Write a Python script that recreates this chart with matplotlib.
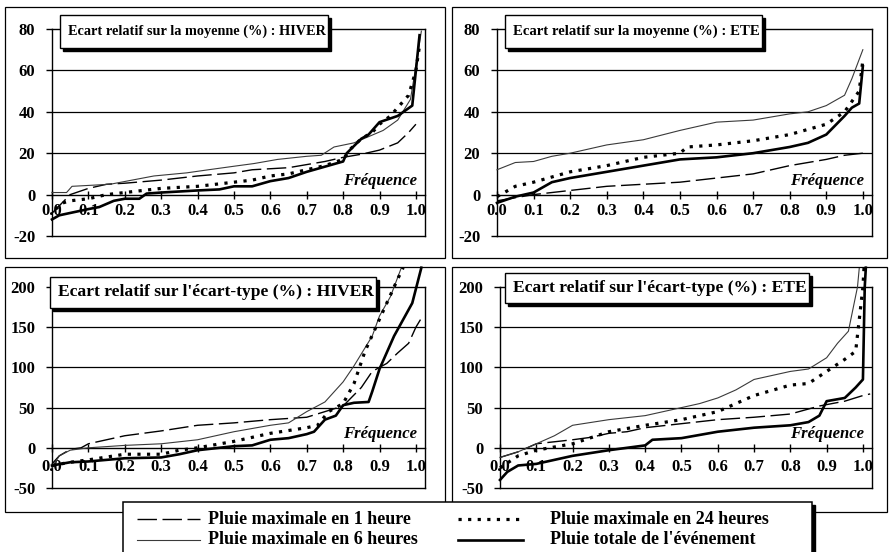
import matplotlib
matplotlib.use("Agg")
import matplotlib.pyplot as plt
import numpy as np
from matplotlib.patches import Rectangle
from matplotlib.lines import Line2D

plt.rcParams['font.family'] = ['Liberation Serif', 'DejaVu Serif']
plt.rcParams['font.weight'] = 'bold'

# ---------------- DATA ----------------
series_labels = ["Pluie maximale en 1 heure", "Pluie maximale en 6 heures",
                 "Pluie maximale en 24 heures", "Pluie totale de l'événement"]
xtick_vals = [0.0, 0.1, 0.2, 0.3, 0.4, 0.5, 0.6, 0.7, 0.8, 0.9, 1.0]
xtick_labels = ["0.0", "0.1", "0.2", "0.3", "0.4", "0.5", "0.6", "0.7", "0.8", "0.9", "1.0"]
yticks_moy = [-20, 0, 20, 40, 60, 80]
yticks_ect = [-50, 0, 50, 100, 150, 200]
titles = ["Ecart relatif sur la moyenne (%) : HIVER",
          "Ecart relatif sur la moyenne (%) : ETE",
          "Ecart relatif sur l'écart-type (%) : HIVER",
          "Ecart relatif sur l'écart-type (%) : ETE"]
axis_label = "Fréquence"

# Panel 1: moyenne HIVER
p1_h1_x = [0.0, 0.05, 0.1, 0.15, 0.2, 0.3, 0.4, 0.5, 0.55, 0.65, 0.7, 0.75, 0.8, 0.85, 0.9, 0.95, 0.98, 1.0]
p1_h1_y = [-9, 0, 3, 5, 5.5, 7, 9, 10.5, 12, 13, 14.5, 16, 18, 19.5, 21.5, 25, 30, 34]
p1_h6_x = [0.0, 0.04, 0.055, 0.16, 0.22, 0.28, 0.37, 0.43, 0.5, 0.555, 0.62, 0.7, 0.74, 0.775, 0.83, 0.87, 0.91, 0.95, 0.985, 1.0, 1.015]
p1_h6_y = [1, 1, 4, 5, 7, 9, 10.5, 12, 13.7, 15, 17, 18.5, 19, 23, 25, 28, 31, 36, 46, 62, 79]
p1_h24_x = [0.01, 0.03, 0.05, 0.1, 0.15, 0.2, 0.25, 0.3, 0.4, 0.5, 0.55, 0.6, 0.65, 0.7, 0.75, 0.8, 0.82, 0.85, 0.88, 0.9, 0.93, 0.96, 0.98, 1.0, 1.01]
p1_h24_y = [-7, -4, -3, -2, 0, 1, 2, 3, 4, 6, 7, 9, 10, 12, 14, 17, 22, 27, 30, 34, 38, 44, 48, 60, 72]
p1_tot_x = [0.0, 0.02, 0.1, 0.13, 0.17, 0.2, 0.24, 0.26, 0.3, 0.4, 0.46, 0.5, 0.55, 0.6, 0.65, 0.7, 0.75, 0.8, 0.81, 0.85, 0.87, 0.9, 0.95, 0.99, 1.0, 1.01]
p1_tot_y = [-12, -10, -7, -6, -3, -2, -2, 0.5, 1, 2, 2.5, 4, 4, 6.5, 8, 11, 13.5, 16, 20, 27, 29, 35, 38, 43, 60, 77]

# Panel 2: moyenne ETE
p2_h1_x = [0.0, 0.1, 0.2, 0.3, 0.4, 0.5, 0.6, 0.7, 0.75, 0.8, 0.9, 0.95, 1.0]
p2_h1_y = [-3, 0, 2, 4, 5, 6, 8, 10, 12, 14, 17, 19, 20]
p2_h6_x = [0.0, 0.05, 0.1, 0.15, 0.2, 0.3, 0.4, 0.5, 0.6, 0.7, 0.8, 0.85, 0.9, 0.95, 0.97, 1.0]
p2_h6_y = [12, 15.5, 16, 18.5, 20, 24, 26.5, 31, 35, 36, 39, 40, 43, 48, 56, 70]
p2_h24_x = [0.0, 0.05, 0.1, 0.2, 0.3, 0.4, 0.5, 0.52, 0.6, 0.7, 0.8, 0.9, 0.95, 0.97, 0.99, 1.0]
p2_h24_y = [-1, 4, 6, 11, 14, 18, 20, 23, 24, 26, 29, 34, 40, 45, 50, 65]
p2_tot_x = [0.0, 0.05, 0.1, 0.15, 0.2, 0.3, 0.4, 0.5, 0.6, 0.7, 0.8, 0.85, 0.9, 0.95, 0.97, 0.99, 1.0]
p2_tot_y = [-4, -1, 1, 6, 8, 11, 14, 17, 18, 20, 23, 25, 29, 38, 42, 44, 62]

# Panel 3: ecart-type HIVER
p3_h1_x = [0.0, 0.02, 0.05, 0.08, 0.1, 0.15, 0.2, 0.3, 0.4, 0.5, 0.6, 0.7, 0.75, 0.8, 0.85, 0.88, 0.92, 0.95, 0.98, 1.0, 1.02]
p3_h1_y = [-20, -10, -2, 0, 5, 10, 15, 21, 28, 31, 35, 38, 45, 52, 75, 95, 105, 118, 130, 150, 165]
p3_h6_x = [0.0, 0.02, 0.05, 0.1, 0.2, 0.3, 0.4, 0.5, 0.6, 0.65, 0.7, 0.75, 0.8, 0.83, 0.88, 0.9, 0.93, 0.96]
p3_h6_y = [-25, -10, -3, 0, 3, 5, 10, 20, 28, 31, 45, 57, 82, 102, 139, 164, 188, 224]
p3_h24_x = [0.0, 0.05, 0.1, 0.2, 0.3, 0.35, 0.4, 0.5, 0.6, 0.7, 0.73, 0.76, 0.8, 0.83, 0.86, 0.9, 0.93, 0.95, 0.965]
p3_h24_y = [-22, -18, -15, -8, -8, -3, 0, 8, 18, 25, 28, 45, 55, 80, 120, 160, 190, 210, 224]
p3_tot_x = [0.0, 0.05, 0.1, 0.2, 0.3, 0.35, 0.4, 0.5, 0.55, 0.6, 0.65, 0.7, 0.72, 0.75, 0.78, 0.8, 0.83, 0.87, 0.88, 0.9, 0.94, 0.99, 1.015]
p3_tot_y = [-22, -18, -17, -13, -12, -8, -3, 2, 3, 10, 12, 17, 20, 35, 40, 53, 56, 57, 70, 98, 139, 180, 224]

# Panel 4: ecart-type ETE
p4_h1_x = [0.0, 0.05, 0.1, 0.2, 0.25, 0.3, 0.35, 0.4, 0.5, 0.6, 0.7, 0.8, 0.88, 0.95, 1.0, 1.02]
p4_h1_y = [-12, -5, 5, 10, 13, 18, 20, 25, 30, 35, 38, 42, 52, 58, 65, 67]
p4_h6_x = [0.0, 0.05, 0.1, 0.15, 0.2, 0.3, 0.4, 0.5, 0.55, 0.6, 0.65, 0.7, 0.8, 0.85, 0.9, 0.93, 0.96, 0.985, 0.99]
p4_h6_y = [-12, -5, 5, 15, 28, 35, 40, 50, 55, 62, 72, 85, 95, 98, 112, 130, 145, 200, 224]
p4_h24_x = [0.0, 0.05, 0.1, 0.2, 0.3, 0.4, 0.5, 0.6, 0.7, 0.8, 0.85, 0.9, 0.95, 0.98, 1.0, 1.003]
p4_h24_y = [-25, -10, -3, 5, 20, 28, 35, 45, 65, 78, 80, 95, 110, 120, 200, 224]
p4_tot_x = [0.0, 0.02, 0.05, 0.1, 0.2, 0.3, 0.4, 0.42, 0.5, 0.6, 0.7, 0.8, 0.85, 0.88, 0.9, 0.95, 0.98, 1.0, 1.005, 1.008]
p4_tot_y = [-40, -30, -22, -20, -10, -3, 3, 10, 12, 20, 25, 28, 32, 40, 58, 62, 75, 85, 200, 224]

# ---------------- STYLE ----------------
W, H = 891, 552
fig = plt.figure(figsize=(W / 100, H / 100), dpi=100)

styles = [
    dict(color='black', lw=1.0, dashes=(14, 4)),
    dict(color='#3a3a3a', lw=0.8),
    dict(color='black', lw=2.3, dashes=(1, 2.0)),
    dict(color='black', lw=1.9),
]

def px_axes(l, r, t, b):
    return fig.add_axes([l / W, 1 - b / H, (r - l) / W, (b - t) / H])

# (axes box px), yticks, data, title, title size, title text (left x, center y) px, box height, xlabel pad
panel_defs = [
    ((52, 425, 29, 236), yticks_moy,
     [(p1_h1_x, p1_h1_y), (p1_h6_x, p1_h6_y), (p1_h24_x, p1_h24_y), (p1_tot_x, p1_tot_y)],
     titles[0], 10.3, (68, 31.5), 33, 3.0),
    ((497, 872, 29, 236), yticks_moy,
     [(p2_h1_x, p2_h1_y), (p2_h6_x, p2_h6_y), (p2_h24_x, p2_h24_y), (p2_tot_x, p2_tot_y)],
     titles[1], 10.6, (513, 31.5), 33, 3.0),
    ((52, 425, 287, 488), yticks_ect,
     [(p3_h1_x, p3_h1_y), (p3_h6_x, p3_h6_y), (p3_h24_x, p3_h24_y), (p3_tot_x, p3_tot_y)],
     titles[2], 12.6, (58, 292.5), 31, 5.0),
    ((500, 872, 287, 488), yticks_ect,
     [(p4_h1_x, p4_h1_y), (p4_h6_x, p4_h6_y), (p4_h24_x, p4_h24_y), (p4_tot_x, p4_tot_y)],
     titles[3], 12.6, (513, 287.5), 30, 5.0),
]

for (l, r, t, b), yt, data, title, tsize, tpos, bh, xpad in panel_defs:
    ax = px_axes(l, r, t, b)
    ax.set_facecolor('none')
    ax.set_xlim(0, 1.025)
    ax.set_ylim(yt[0], yt[-1])
    for s in ['left', 'right', 'top']:
        ax.spines[s].set_linewidth(1.0)
    ax.spines['bottom'].set_position(('data', 0))
    ax.spines['bottom'].set_linewidth(1.0)
    ax.axhline(yt[0], color='black', lw=1.0, clip_on=False, zorder=2)
    for v in yt[1:-1]:
        if v != 0:
            ax.axhline(v, color='black', lw=0.9, zorder=1)
    for (xs, ys), st in zip(data, styles):
        ax.plot(xs, ys, clip_on=False, zorder=3, **st)
    ax.set_xticks(xtick_vals)
    ax.set_xticklabels(xtick_labels)
    ax.set_yticks(yt)
    ax.set_yticklabels([str(v) for v in yt])
    ax.tick_params(axis='x', direction='inout', length=6, width=1, pad=xpad, labelsize=12)
    ax.tick_params(axis='y', direction='out', length=4, width=1, pad=8, labelsize=12)
    for lab in ax.get_xticklabels() + ax.get_yticklabels():
        lab.set_fontweight('bold')
    ax.annotate(axis_label, xy=(1.0, 0), xycoords='data', xytext=(1, 4),
                textcoords='offset points', ha='right', va='bottom',
                fontsize=12, fontstyle='italic', fontweight='bold', zorder=5)

# overlay for frames, titles and legend (pixel coordinates)
ov = fig.add_axes([0, 0, 1, 1])
ov.set_xlim(0, W)
ov.set_ylim(H, 0)
ov.axis('off')
ov.patch.set_visible(False)
for (x0, y0, x1, y1) in [(5, 7, 445, 258), (452, 7, 887, 258), (5, 267, 445, 512), (452, 267, 887, 512)]:
    ov.add_patch(Rectangle((x0, y0), x1 - x0, y1 - y0, fill=False, ec='black', lw=0.9, zorder=1))

title_objs = []
for (_, _, _, title, tsize, tpos, bh, _) in panel_defs:
    t = ov.text(tpos[0], tpos[1], title, ha='left', va='center', fontsize=tsize,
                fontweight='bold', zorder=7)
    title_objs.append((t, tpos, bh))

fig.canvas.draw()
ren = fig.canvas.get_renderer()
for t, tpos, bh in title_objs:
    bb = t.get_window_extent(ren)
    x0 = bb.x0 - 8
    x1 = bb.x1 + 2
    y0 = tpos[1] - bh / 2
    ov.add_patch(Rectangle((x0 + 3, y0 + 3), x1 - x0, bh, fc='black', ec='black', lw=1, zorder=5))
    ov.add_patch(Rectangle((x0, y0), x1 - x0, bh, fc='white', ec='black', lw=1, zorder=6))

# legend
ov.add_patch(Rectangle((126, 505), 812 - 123, 60, fc='black', ec='black', lw=1, zorder=2, clip_on=False))
ov.add_patch(Rectangle((123, 502), 812 - 123, 60, fc='white', ec='black', lw=1.1, zorder=3, clip_on=False))

leg_pos = [((137, 200), 208, 519), ((137, 200), 208, 540), ((458, 523), 550, 519), ((458, 523), 550, 540)]
for lab, st, ((hx0, hx1), tx, ty) in zip(series_labels, styles, leg_pos):
    ov.add_line(Line2D([hx0, hx1], [ty, ty], zorder=4, **st))
    ov.text(tx, ty, lab, ha='left', va='center', fontsize=13, fontweight='bold', zorder=4)

fig.savefig('out.png', dpi=100)
